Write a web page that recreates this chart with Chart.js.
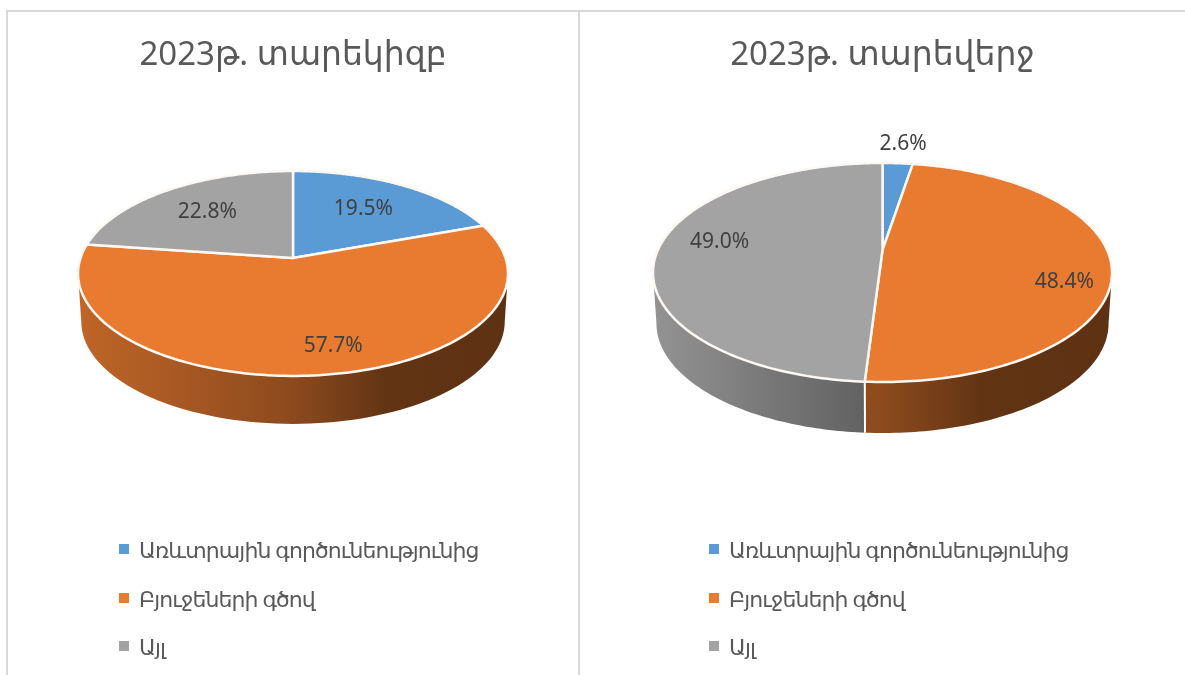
<!DOCTYPE html>
<html>
<head>
<meta charset="utf-8">
<script src="https://cdn.jsdelivr.net/npm/chart.js@4"></script>
<style>
html,body{margin:0;padding:0;background:#fff;width:1185px;height:675px;overflow:hidden}
body{font-family:"Noto Sans","DejaVu Sans",sans-serif;position:relative}
canvas{position:absolute;top:0}
.rule{position:absolute;background:#d9d9d9}
.legend{position:absolute;top:525px;color:#595959;font-size:22px;letter-spacing:-0.9px;line-height:48.5px;white-space:nowrap}
.legend div{position:relative;padding-left:20px;height:48.5px}
.legend i{position:absolute;left:0;top:19px;width:10px;height:10px}
</style>
</head>
<body>
<div class="rule" style="left:6px;top:10px;width:1179px;height:2px"></div>
<div class="rule" style="left:6px;top:10px;width:2px;height:665px"></div>
<div class="rule" style="left:578px;top:10px;width:2px;height:665px"></div>
<canvas id="c1" width="570" height="675" style="left:8px"></canvas>
<canvas id="c2" width="605" height="675" style="left:580px"></canvas>
<div class="legend" id="l1" style="left:119px"></div>
<div class="legend" id="l2" style="left:709px"></div>
<script>
const categories = ["Առևտրային գործունեությունից", "Բյուջեների գծով", "Այլ"];
const titleStart = "2023թ. տարեկիզբ";
const titleEnd = "2023թ. տարեվերջ";
const valuesStart = [19.5, 57.7, 22.8];
const valuesEnd = [2.6, 48.4, 49.0];
const colors = ["#5B9BD5", "#E97B30", "#A3A3A3"];
const wallShade = [
  [[0,0.84],[0.5,0.6],[0.72,0.42],[1,0.4]],
  [[0,0.82],[0.28,0.7],[0.5,0.6],[0.72,0.42],[1,0.4]],
  [[0,0.9],[0.46,0.6],[1,0.45]]
];

function shade(hex, k){
  const n = parseInt(hex.slice(1),16);
  return `rgb(${Math.round((n>>16&255)*k)},${Math.round((n>>8&255)*k)},${Math.round((n&255)*k)})`;
}

const pie3d = {
  id:'pie3d',
  beforeDatasetsDraw(chart, args, o){
    const ctx = chart.ctx, arcs = chart.getDatasetMeta(0).data;
    const cx = arcs[0].x;
    const proj = (ang, f=1) => {
      const u = Math.cos(ang)*f, v = Math.sin(ang)*f, w = 1 - o.persp*v;
      return [cx + o.a*u/w, o.apexY + o.b*v/w];
    };
    const lower = p => [cx + (p[0]-cx)*o.wallScale, p[1] + o.depth];
    const x0 = cx - o.a/Math.sqrt(1-o.persp*o.persp), x1 = 2*cx - x0;
    ctx.save();
    // side wall: only the front part of each slice's rim
    const frontA = Math.asin(o.persp), frontB = Math.PI - frontA;
    arcs.forEach((arc, i) => {
      [0, 2*Math.PI, -2*Math.PI].forEach(off => {
        const s = Math.max(arc.startAngle+off, frontA), e = Math.min(arc.endAngle+off, frontB);
        if (e <= s) return;
        const top = [], bot = [];
        for (let k=0;k<=80;k++){ const p = proj(s+(e-s)*k/80); top.push(p); bot.push(lower(p)); }
        const g = ctx.createLinearGradient(x0,0,x1,0);
        wallShade[i].forEach(([t,m]) => g.addColorStop(t, shade(colors[i], m)));
        ctx.beginPath();
        top.forEach((p,k)=> k?ctx.lineTo(p[0],p[1]):ctx.moveTo(p[0],p[1]));
        bot.reverse().forEach(p=>ctx.lineTo(p[0],p[1]));
        ctx.closePath();
        ctx.fillStyle = g; ctx.fill();
        if (Math.abs(arc.startAngle+off - s) < 1e-6){
          const a = top[0], b = lower(a);
          ctx.beginPath(); ctx.moveTo(a[0],a[1]); ctx.lineTo(b[0],b[1]);
          ctx.strokeStyle='#fff'; ctx.lineWidth=2; ctx.stroke();
        }
      });
    });
    // top face
    arcs.forEach((arc, i) => {
      ctx.beginPath();
      const c = proj(0,0); ctx.moveTo(c[0],c[1]);
      for (let k=0;k<=160;k++){ const p = proj(arc.startAngle+(arc.endAngle-arc.startAngle)*k/160); ctx.lineTo(p[0],p[1]); }
      ctx.closePath();
      ctx.fillStyle = colors[i]; ctx.fill();
      ctx.strokeStyle = '#fdf8f4'; ctx.lineWidth = 2.5; ctx.lineJoin='round'; ctx.stroke();
    });
    // data labels
    ctx.font = '21px "Noto Sans","DejaVu Sans",sans-serif';
    ctx.fillStyle = '#404040'; ctx.textAlign='center'; ctx.textBaseline='middle';
    arcs.forEach((arc, i) => {
      const [f,dx,dy] = o.labelPlace[i];
      const p = proj((arc.startAngle+arc.endAngle)/2, f);
      ctx.fillText(chart.data.datasets[0].data[i].toFixed(1)+'%', p[0]+dx, p[1]+dy);
    });
    ctx.restore();
    return false;
  }
};

function makeChart(id, title, values, geom){
  return new Chart(document.getElementById(id), {
    type:'pie',
    data:{labels:categories, datasets:[{data:values, backgroundColor:colors, borderWidth:0}]},
    options:{
      responsive:false, animation:false, events:[],
      plugins:{
        legend:{display:false}, tooltip:{enabled:false},
        title:{display:true, text:title, color:'#595959',
          font:{family:'"Noto Sans","DejaVu Sans",sans-serif', size:33, weight:'normal'},
          padding:{top:36,bottom:10}},
        pie3d:geom
      }
    },
    plugins:[pie3d]
  });
}

makeChart('c1', titleStart, valuesStart, {a:212.5,b:100.1,persp:0.151,apexY:258,depth:48,wallScale:0.985,
  labelPlace:[[0.63,-1,-1],[0.7,23,10],[0.66,0,0]]});
makeChart('c2', titleEnd, valuesEnd, {a:224.6,b:104.9,persp:0.2055,apexY:250,depth:51,wallScale:0.985,
  labelPlace:[[1.2,3,-5],[0.8,0,22],[0.72,-2,-6]]});

['l1','l2'].forEach(id=>{
  const box = document.getElementById(id);
  categories.forEach((c,i)=>{
    const row = document.createElement('div');
    const mark = document.createElement('i'); mark.style.background = colors[i];
    row.appendChild(mark); row.appendChild(document.createTextNode(c));
    box.appendChild(row);
  });
});
</script>
</body>
</html>
